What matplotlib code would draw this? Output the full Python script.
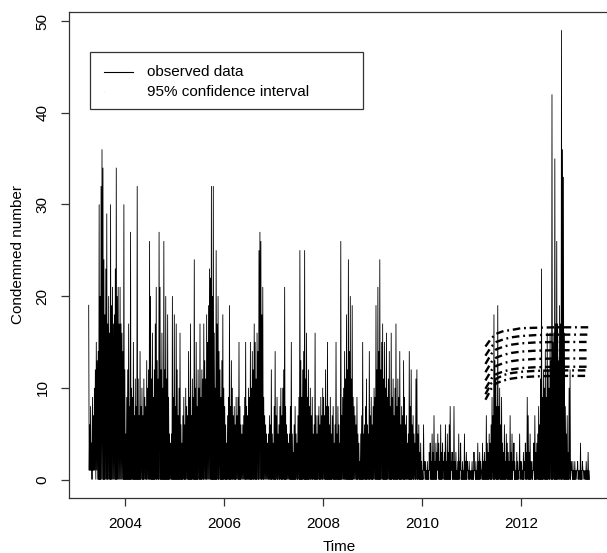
import numpy as np
import matplotlib
matplotlib.use("Agg")
import matplotlib.pyplot as plt
from matplotlib.patches import Rectangle
from matplotlib.lines import Line2D

plt.rcParams['font.family'] = ['Liberation Sans', 'DejaVu Sans']
plt.rcParams['path.simplify'] = False

# ---------------- data (weekly maxima) ----------------
start_year = 2003.26
weeks_per_year = 52
week_max = [
    19, 6, 8, 4, 9, 7, 10, 12, 15, 13, 14, 30, 20, 32, 36, 34, 24, 18, 23, 29,
    17, 20, 16, 30, 19, 21, 17, 18, 23, 34, 20, 21, 17, 21, 17, 16, 14, 30, 12, 5,
    9, 12, 17, 8, 27, 10, 9, 15, 7, 11, 8, 32, 11, 7, 14, 8, 10, 7, 11, 9,
    8, 13, 10, 12, 26, 20, 11, 16, 9, 12, 17, 21, 13, 11, 27, 21, 12, 16, 10, 26,
    12, 20, 11, 18, 9, 5, 4, 5, 20, 9, 18, 8, 17, 12, 7, 10, 16, 6, 4, 7,
    9, 6, 10, 8, 7, 14, 9, 17, 7, 11, 9, 24, 10, 15, 8, 12, 10, 17, 9, 12,
    11, 17, 13, 11, 18, 15, 19, 23, 22, 32, 20, 32, 16, 10, 25, 17, 20, 14, 12, 9,
    13, 18, 10, 8, 6, 4, 7, 9, 19, 8, 13, 10, 7, 8, 6, 9, 7, 9, 15, 8,
    6, 5, 6, 7, 9, 15, 8, 7, 10, 9, 15, 10, 14, 12, 17, 15, 11, 16, 14, 25,
    27, 26, 18, 21, 9, 7, 6, 5, 4, 5, 7, 6, 12, 5, 4, 8, 14, 7, 9, 5,
    6, 8, 10, 7, 10, 12, 21, 8, 6, 5, 4, 5, 8, 15, 5, 3, 6, 8, 5, 4,
    7, 9, 25, 13, 9, 12, 14, 25, 11, 16, 9, 12, 8, 10, 7, 9, 5, 6, 16, 7,
    5, 7, 8, 6, 9, 7, 10, 9, 7, 12, 8, 15, 8, 6, 9, 5, 7, 8, 4, 6,
    15, 5, 8, 6, 4, 26, 7, 9, 10, 14, 11, 18, 12, 24, 14, 20, 11, 19, 9, 8,
    7, 6, 9, 5, 4, 2, 5, 7, 15, 5, 6, 8, 11, 6, 5, 14, 7, 9, 6, 8,
    10, 9, 19, 12, 21, 14, 24, 12, 15, 17, 11, 15, 10, 16, 9, 11, 14, 8, 16, 9,
    11, 7, 10, 17, 8, 11, 9, 14, 6, 8, 7, 13, 9, 6, 7, 4, 5, 14, 8, 12,
    6, 7, 5, 4, 11, 12, 5, 6, 3, 4, 2, 1, 6, 2, 2, 1, 2, 1, 3, 4,
    2, 5, 3, 7, 2, 4, 3, 5, 4, 2, 6, 3, 4, 2, 3, 6, 2, 5, 3, 6,
    8, 2, 3, 2, 8, 2, 3, 1, 2, 5, 2, 4, 1, 2, 1, 5, 2, 3, 2, 1,
    2, 1, 1, 2, 1, 3, 1, 2, 1, 4, 2, 3, 2, 1, 4, 2, 3, 2, 7, 4,
    3, 5, 4, 6, 9, 7, 18, 13, 11, 8, 19, 8, 10, 6, 9, 4, 3, 6, 2, 5,
    4, 3, 2, 7, 3, 5, 2, 4, 2, 1, 3, 2, 1, 5, 2, 2, 1, 3, 2, 4,
    3, 9, 7, 3, 5, 2, 2, 1, 4, 7, 3, 4, 5, 8, 6, 11, 23, 9, 12, 10,
    14, 9, 16, 12, 10, 16, 13, 42, 15, 16, 35, 17, 26, 17, 13, 19, 17, 49, 36, 33,
    16, 8, 5, 7, 3, 10, 12, 2, 1, 2, 1, 2, 1, 1, 2, 1, 1, 4, 1, 2,
    1, 1, 1, 2, 1, 3, 1,
]
# weeks whose lowest daily count was 1 (all other weeks reached 0)
weeks_min_one = [0, 1, 2, 4, 5, 6, 8, 352, 358, 366, 372, 381, 390, 398, 405,
                 412, 446, 452, 458, 467, 507, 513, 519]

# 95% confidence interval curves (forecast bands)
ci_time = [2011.28, 2011.40, 2011.50, 2011.65, 2011.80, 2012.00, 2012.30, 2012.70, 2013.00, 2013.37]
ci_curves = [
    [14.5, 15.4, 15.9, 16.2, 16.3, 16.5, 16.55, 16.6, 16.6, 16.6],
    [13.5, 14.5, 15.0, 15.3, 15.5, 15.65, 15.75, 15.8, 15.8, 15.8],
    [12.6, 13.7, 14.2, 14.5, 14.7, 14.85, 14.95, 15.0, 15.0, 15.0],
    [11.7, 12.8, 13.3, 13.6, 13.8, 13.95, 14.05, 14.1, 14.1, 14.1],
    [10.8, 11.9, 12.4, 12.7, 12.9, 13.05, 13.15, 13.2, 13.2, 13.2],
    [9.9, 11.0, 11.5, 11.8, 12.0, 12.15, 12.25, 12.3, 12.3, 12.3],
    [9.3, 10.5, 11.0, 11.4, 11.6, 11.75, 11.85, 11.9, 11.9, 11.9],
    [8.7, 9.9, 10.5, 10.8, 11.0, 11.15, 11.25, 11.3, 11.3, 11.3],
]

x_ticks = [2004, 2006, 2008, 2010, 2012]
y_ticks = [0, 10, 20, 30, 40, 50]
legend_labels = ["observed data", "95% confidence interval"]

# ---------------- build series ----------------
n = len(week_max)
week_min = np.zeros(n)
week_min[weeks_min_one] = 1
t = start_year + np.arange(n) / weeks_per_year
tt = np.empty(2 * n)
vv = np.empty(2 * n)
tt[0::2] = t
tt[1::2] = t + 0.5 / weeks_per_year
vv[0::2] = week_max
vv[1::2] = week_min

# ---------------- figure ----------------
W, H = 607, 553
fig = plt.figure(figsize=(W / 100, H / 100), dpi=100)
left_px, right_px, top_px, bot_px = 68.9, 608.6, 12.2, 497.5
ax = fig.add_axes([left_px / W, 1 - bot_px / H, (right_px - left_px) / W, (bot_px - top_px) / H])

ax.plot(tt, vv, color='black', lw=0.6, solid_joinstyle='miter')

for c in ci_curves:
    ax.plot(ci_time, c, color='black', lw=1.7, linestyle=(0, (3.2, 1.6, 0.8, 1.6)))

ax.set_xlim(2002.86, 2013.77)
ax.set_ylim(-1.96, 50.96)
ax.set_xticks(x_ticks)
ax.set_xticklabels([str(v) for v in x_ticks])
ax.set_yticks(y_ticks)
ax.set_yticklabels([str(v) for v in y_ticks], rotation=90, va='center')
ax.tick_params(axis='both', direction='out', length=6, width=0.9, color='#333333',
               labelsize=11, labelcolor='black')
ax.tick_params(axis='x', pad=8)
ax.tick_params(axis='y', pad=8)
for s in ax.spines.values():
    s.set_linewidth(0.9)
    s.set_color('#333333')

ax.set_xlabel("Time", fontsize=11, va='center')
ax.xaxis.set_label_coords(0.5, (bot_px - 547) / (bot_px - top_px))
ax.set_ylabel("Condemned number", fontsize=11, va='center')
ax.yaxis.set_label_coords((18 - left_px) / (right_px - left_px), 0.5)

# ---------------- legend (drawn as in R) ----------------
fig.add_artist(Rectangle((90 / W, 1 - 109 / H), (362.7 - 90) / W, (109 - 52.3) / H,
                         transform=fig.transFigure, facecolor='white',
                         edgecolor='#333333', lw=0.9, zorder=5))
fig.add_artist(Line2D([104 / W, 133 / W], [1 - 71.7 / H] * 2, transform=fig.transFigure,
                      color='black', lw=0.8, zorder=6))
fig.add_artist(Line2D([104 / W, 133 / W], [1 - 91.7 / H] * 2, transform=fig.transFigure,
                      color='#bbbbbb', lw=0.5, linestyle=(0, (0.6, 60)), zorder=6))
fig.text(147 / W, 1 - 71.7 / H, legend_labels[0], va='center', ha='left', fontsize=11, zorder=7)
fig.text(147 / W, 1 - 91.7 / H, legend_labels[1], va='center', ha='left', fontsize=11, zorder=7)

fig.savefig("out.png", dpi=100)
